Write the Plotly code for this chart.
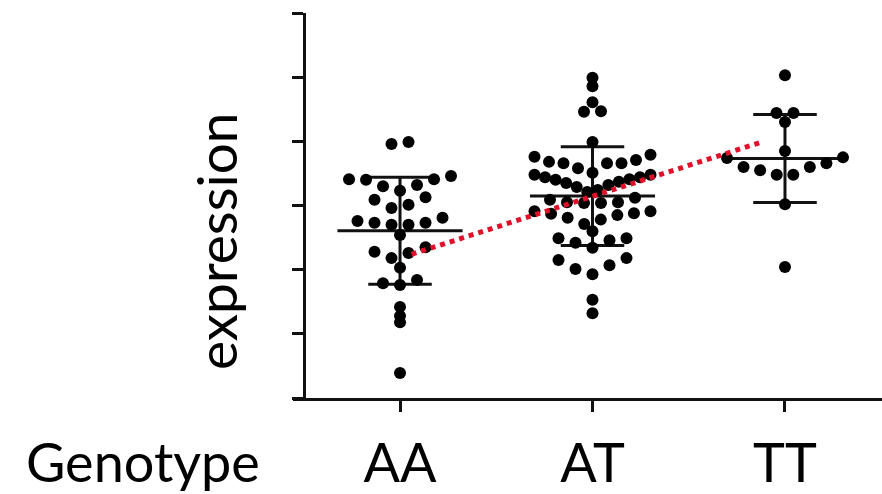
import numpy as np
import plotly.graph_objects as go

# ---------------- data ----------------
genotypes = ["AA", "AT", "TT"]

aa_values = [3.99, 3.96, 3.46, 3.41, 3.40, 3.41, 3.32, 3.30, 3.23, 3.13, 3.09,
             3.01, 2.96, 2.81, 2.76, 2.73, 2.73, 2.70, 2.70, 2.54, 2.35, 2.28,
             2.26, 2.18, 2.03, 1.84, 1.79, 1.76, 1.42, 1.28, 1.18, 0.39]

at_values = [4.99, 4.86, 4.61, 4.47, 4.46, 3.99,
             3.79, 3.76, 3.71, 3.68, 3.66, 3.66, 3.66, 3.58, 3.51,
             3.48, 3.48, 3.44, 3.44, 3.41, 3.40, 3.37, 3.35, 3.32, 3.29, 3.24, 3.21,
             3.12, 3.09, 3.05, 3.05, 3.04, 3.04,
             2.91, 2.91, 2.88, 2.87, 2.85, 2.81, 2.78, 2.71,
             2.60,
             2.49, 2.49, 2.46, 2.42, 2.34,
             2.18, 2.15, 2.07, 2.01, 1.93,
             1.53, 1.32]

tt_values = [5.03, 4.44, 4.44, 4.30, 3.85, 3.75, 3.74, 3.66, 3.60, 3.60,
             3.55, 3.48, 3.48, 3.02, 2.04]

trend_x = [0.06, 1.88]
trend_y = [2.24, 3.99]

y_tick_values = [0, 1, 2, 3, 4, 5, 6]

# ---------------- layout geometry ----------------
W, H = 882, 494
margin = dict(l=293, r=0, t=13, b=96)
x_range = [-0.556, 2.504]
y_range = [0, 6]
plot_w = W - margin["l"] - margin["r"]
plot_h = H - margin["t"] - margin["b"]
px_x = plot_w / (x_range[1] - x_range[0])
px_y = plot_h / (y_range[1] - y_range[0])

FONT = "Lato, 'Open Sans', sans-serif"
LABEL_SIZE = 54


def swarm_offsets(values, step_px=17.0, max_px=116.0, span_px=18.5,
                  gap_px=8.0, gap_single_px=6.0):
    """Prism-like scatter-dot layout: group close values into rows and spread
    each row symmetrically around the category centre (lowest value in the
    middle, higher values outwards)."""
    v = np.asarray(values, float)
    order = np.argsort(-v, kind="stable")
    rows, cur = [], [order[0]]
    for idx in order[1:]:
        gap = (v[cur[-1]] - v[idx]) * px_y
        span = (v[cur[0]] - v[idx]) * px_y
        g = gap_single_px if len(cur) == 1 else gap_px
        if gap > g or span > span_px:
            rows.append(cur)
            cur = [idx]
        else:
            cur.append(idx)
    rows.append(cur)
    off = np.zeros(len(v))
    for row in rows:
        n = len(row)
        sp = step_px if n == 1 else min(step_px, max_px / (n - 1))
        pos = [(k - (n - 1) / 2) * sp for k in range(n)]
        pos.sort(key=lambda p: (round(abs(p), 6), p))
        members = sorted(row, key=lambda i: v[i])
        for p, i in zip(pos, members):
            off[i] = p / px_x
    return off


groups = [aa_values, at_values, tt_values]

fig = go.Figure()

# error bars: mean line + SD whiskers
mean_half = 0.325
cap_half = 0.165
ex, ey = [], []
for gi, vals in enumerate(groups):
    arr = np.asarray(vals, float)
    m = arr.mean()
    s = arr.std(ddof=1)
    ex += [gi - mean_half, gi + mean_half, None,
           gi, gi, None,
           gi - cap_half, gi + cap_half, None,
           gi - cap_half, gi + cap_half, None]
    ey += [m, m, None,
           m - s, m + s, None,
           m + s, m + s, None,
           m - s, m - s, None]
fig.add_trace(go.Scatter(x=ex, y=ey, mode="lines",
                         line=dict(color="#111111", width=3),
                         hoverinfo="skip", showlegend=False))

# points
for gi, vals in enumerate(groups):
    off = swarm_offsets(vals)
    fig.add_trace(go.Scatter(
        x=gi + off, y=vals, mode="markers",
        marker=dict(color="#000000", size=12, line=dict(width=0)),
        name=genotypes[gi], showlegend=False))

# red dotted trend line
fig.add_trace(go.Scatter(x=trend_x, y=trend_y, mode="lines",
                         line=dict(color="#e0102a", width=5, dash="dot"),
                         hoverinfo="skip", showlegend=False))

fig.update_layout(
    width=W, height=H,
    margin=dict(l=margin["l"], r=margin["r"], t=margin["t"], b=margin["b"],
                pad=0, autoexpand=False),
    paper_bgcolor="white", plot_bgcolor="white",
    showlegend=False,
    xaxis=dict(range=x_range, tickmode="array", tickvals=[0, 1, 2],
               ticktext=genotypes, ticks="outside", ticklen=11, tickwidth=3,
               tickcolor="#111111", showline=True, linewidth=3,
               linecolor="#111111", showgrid=False, zeroline=False,
               automargin=False,
               tickfont=dict(family=FONT, size=LABEL_SIZE, color="#000000"),
               ticklabelstandoff=5),
    yaxis=dict(range=y_range, tickmode="array", tickvals=y_tick_values,
               showticklabels=False, ticks="outside", ticklen=11, tickwidth=3,
               tickcolor="#111111", showline=True, linewidth=3,
               linecolor="#111111", showgrid=False, zeroline=False,
               automargin=False,
               anchor="free", position=11 / plot_w),
    annotations=[
        dict(text="expression", textangle=-90, showarrow=False,
             xref="paper", yref="paper",
             x=(216 - margin["l"]) / plot_w, y=(H - margin["b"] - 241) / plot_h,
             xanchor="center", yanchor="middle",
             font=dict(family=FONT, size=55, color="#000000")),
        dict(text="Genotype", showarrow=False,
             xref="paper", yref="paper",
             x=(143 - margin["l"]) / plot_w, y=(H - margin["b"] - 461) / plot_h,
             xanchor="center", yanchor="middle",
             font=dict(family=FONT, size=LABEL_SIZE, color="#000000")),
    ],
)

fig.write_html("out.html")
